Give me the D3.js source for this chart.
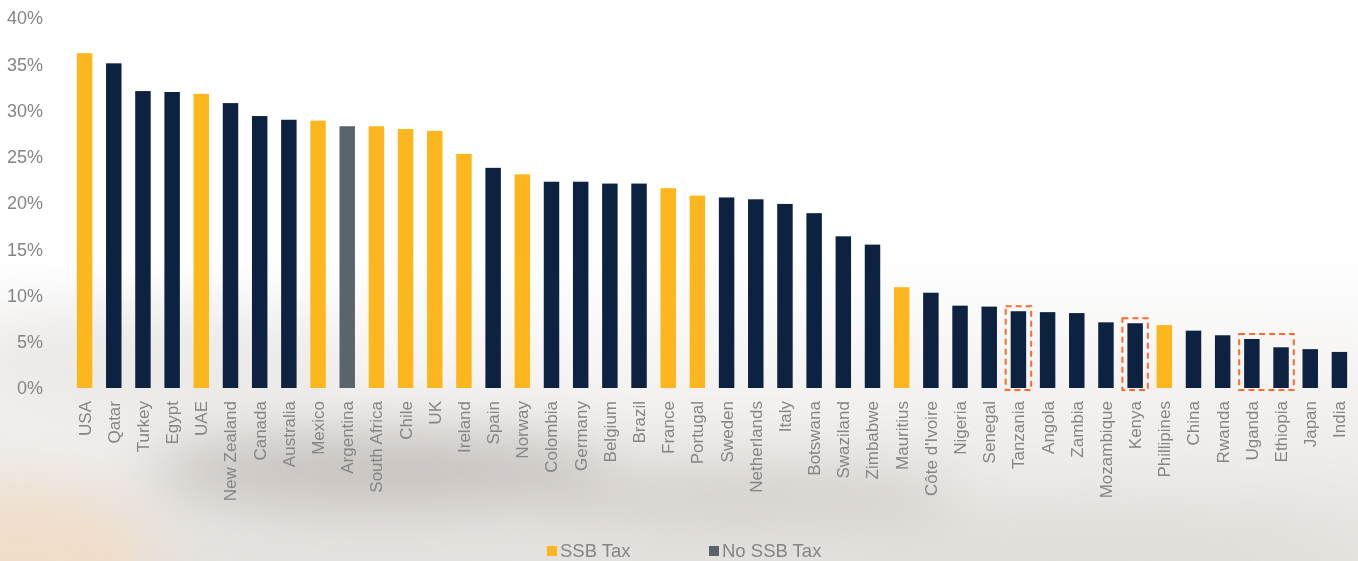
<!DOCTYPE html>
<html lang="en">
<head>
<meta charset="UTF-8">
<title>SSB tax bar chart</title>
<script src="https://cdnjs.cloudflare.com/ajax/libs/d3/7.8.5/d3.min.js"></script>
<style>
  * { margin: 0; padding: 0; }
  body { width: 1358px; height: 561px; overflow: hidden; background: #fff; font-family: "Liberation Sans", Arial, sans-serif; }
  .tick text { fill: #858585; }
</style>
</head>
<body>
<div id="chart"></div>
<script>
// countries, sorted as in the picture
var countries = ["USA", "Qatar", "Turkey", "Egypt", "UAE", "New Zealand", "Canada", "Australia", "Mexico", "Argentina",
  "South Africa", "Chile", "UK", "Ireland", "Spain", "Norway", "Colombia", "Germany", "Belgium", "Brazil",
  "France", "Portugal", "Sweden", "Netherlands", "Italy", "Botswana", "Swaziland", "Zimbabwe", "Mauritius", "Côte d'Ivoire",
  "Nigeria", "Senegal", "Tanzania", "Angola", "Zambia", "Mozambique", "Kenya", "Phillipines", "China", "Rwanda",
  "Uganda", "Ethiopia", "Japan", "India"];
// share in %
var values = [36.2, 35.1, 32.1, 32.0, 31.8, 30.8, 29.4, 29.0, 28.9, 28.3,
  28.3, 28.0, 27.8, 25.3, 23.8, 23.1, 22.3, 22.3, 22.1, 22.1,
  21.6, 20.8, 20.6, 20.4, 19.9, 18.9, 16.4, 15.5, 10.9, 10.3,
  8.9, 8.8, 8.3, 8.2, 8.1, 7.1, 7.0, 6.8, 6.2, 5.7,
  5.3, 4.4, 4.2, 3.9];
// "ssb" = SSB tax, "none" = no SSB tax, "other" = Argentina (grey)
var groups = ["ssb", "none", "none", "none", "ssb", "none", "none", "none", "ssb", "other",
  "ssb", "ssb", "ssb", "ssb", "none", "ssb", "none", "none", "none", "none",
  "ssb", "ssb", "none", "none", "none", "none", "none", "none", "ssb", "none",
  "none", "none", "none", "none", "none", "none", "none", "ssb", "none", "none",
  "none", "none", "none", "none"];
var yTicks = [0, 5, 10, 15, 20, 25, 30, 35, 40];
var highlights = [["Tanzania"], ["Kenya"], ["Uganda", "Ethiopia"]];
var legendItems = ["SSB Tax", "No SSB Tax"];

var W = 1358, H = 561;
var colors = { ssb: "#FDB71E", none: "#0C2240", other: "#5C646B" };

var svg = d3.select("#chart").append("svg").attr("width", W).attr("height", H);

// soft blurred background like the photo behind the chart
var defs = svg.append("defs");
var grad = defs.append("linearGradient").attr("id", "bg").attr("x1", 0).attr("y1", 0).attr("x2", 0).attr("y2", 1);
grad.append("stop").attr("offset", "0.45").attr("stop-color", "#ffffff");
grad.append("stop").attr("offset", "0.8").attr("stop-color", "#efedeb");
grad.append("stop").attr("offset", "1").attr("stop-color", "#e5e2df");
defs.append("filter").attr("id", "blur").attr("x", "-50%").attr("y", "-50%").attr("width", "200%").attr("height", "200%")
  .append("feGaussianBlur").attr("stdDeviation", 28);

svg.append("rect").attr("width", W).attr("height", H).attr("fill", "url(#bg)");
var clouds = svg.append("g").attr("filter", "url(#blur)");
clouds.append("ellipse").attr("cx", 150).attr("cy", 360).attr("rx", 200).attr("ry", 50).attr("fill", "#e7e4e1").attr("opacity", 0.7);
clouds.append("ellipse").attr("cx", 380).attr("cy", 470).attr("rx", 230).attr("ry", 40).attr("fill", "#b9b4b0").attr("opacity", 0.75);
clouds.append("ellipse").attr("cx", 740).attr("cy", 495).attr("rx", 220).attr("ry", 32).attr("fill", "#c8c3bf").attr("opacity", 0.65);
clouds.append("ellipse").attr("cx", 20).attr("cy", 560).attr("rx", 130).attr("ry", 70).attr("fill", "#f3dcc4").attr("opacity", 0.85);
clouds.append("ellipse").attr("cx", 1100).attr("cy", 540).attr("rx", 250).attr("ry", 30).attr("fill", "#dcd8d4").attr("opacity", 0.6);

var x = d3.scaleBand().domain(countries).range([70, 1354]).paddingInner(0.47).paddingOuter(0.235);
var y = d3.scaleLinear().domain([0, 40]).range([388, 18]);

// y axis, labels only
var yAxis = svg.append("g")
  .attr("transform", "translate(46,0)")
  .call(d3.axisLeft(y).tickValues(yTicks).tickSize(0).tickFormat(function(d) { return d + "%"; }));
yAxis.select(".domain").remove();
yAxis.selectAll("text").attr("font-size", 18).attr("font-family", "Liberation Sans, Arial, sans-serif");

// bars
svg.append("g").selectAll("rect")
  .data(values)
  .enter()
  .append("rect")
  .attr("x", function(d, i) { return x(countries[i]); })
  .attr("y", function(d) { return y(d); })
  .attr("width", x.bandwidth())
  .attr("height", function(d) { return y(0) - y(d); })
  .attr("fill", function(d, i) { return colors[groups[i]]; });

// x axis labels, rotated
var xAxis = svg.append("g")
  .attr("transform", "translate(0,390)")
  .call(d3.axisBottom(x).tickSize(0));
xAxis.select(".domain").remove();
xAxis.selectAll("text")
  .attr("font-size", 17)
  .attr("font-family", "Liberation Sans, Arial, sans-serif")
  .attr("transform", "rotate(-90)")
  .attr("text-anchor", "end")
  .attr("x", -11)
  .attr("y", 0)
  .attr("dy", "0.35em");

// dashed highlight boxes
svg.append("g").selectAll("rect")
  .data(highlights)
  .enter()
  .append("rect")
  .attr("x", function(d) { return x(d[0]) - 5; })
  .attr("y", function(d) { return y(values[countries.indexOf(d[0])]) - 5; })
  .attr("width", function(d) { return x(d[d.length - 1]) + x.bandwidth() + 5 - (x(d[0]) - 5); })
  .attr("height", function(d) { return 390 - (y(values[countries.indexOf(d[0])]) - 5); })
  .attr("fill", "none")
  .attr("stroke", "#FF6B2B")
  .attr("stroke-width", 2)
  .attr("stroke-dasharray", "6,4");

// legend
var legendX = [547, 709];
var legendCol = [colors.ssb, colors.other];
var lg = svg.append("g").selectAll("g")
  .data(legendItems)
  .enter()
  .append("g")
  .attr("transform", function(d, i) { return "translate(" + legendX[i] + ",546)"; });
lg.append("rect").attr("width", 10).attr("height", 10).attr("fill", function(d, i) { return legendCol[i]; });
lg.append("text")
  .attr("x", 13).attr("y", 11)
  .attr("font-size", 18.5)
  .attr("fill", "#858585")
  .text(function(d) { return d; });
</script>
</body>
</html>
